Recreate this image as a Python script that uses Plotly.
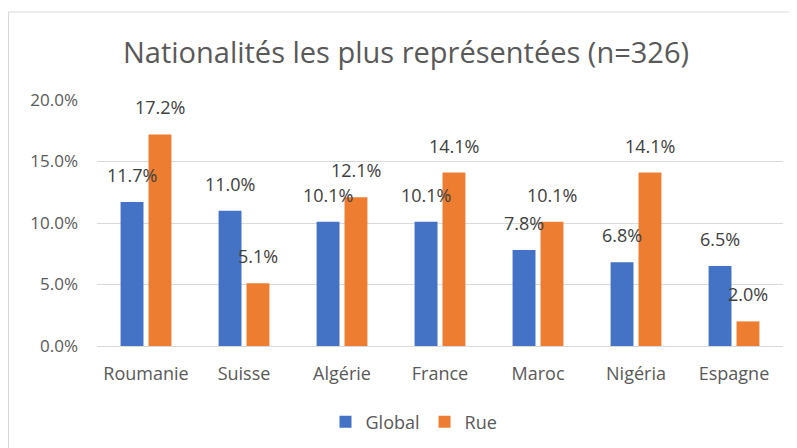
import plotly.graph_objects as go

categories = ["Roumanie", "Suisse", "Algérie", "France", "Maroc", "Nigéria", "Espagne"]
global_vals = [11.7, 11.0, 10.1, 10.1, 7.8, 6.8, 6.5]
rue_vals = [17.2, 5.1, 12.1, 14.1, 10.1, 14.1, 2.0]
y_ticks = [0, 5, 10, 15, 20]

# page body has an 8px margin: figure coordinates = reference coordinates - 8
OFF = 8
W, H = 797 - OFF, 448 - OFF
ML = 97 - OFF
MT = 100 - OFF
PLOT_BOTTOM = 346 - OFF
PLOT_RIGHT = 783 - OFF
MB = H - PLOT_BOTTOM
MR = W - PLOT_RIGHT
PW, PH = W - ML - MR, H - MT - MB

font_family = "Open Sans, Liberation Sans, sans-serif"

fig = go.Figure()
fig.add_trace(go.Bar(name="Global", x=categories, y=global_vals,
                     marker=dict(color="#4472C4", line=dict(width=0))))
fig.add_trace(go.Bar(name="Rue", x=categories, y=rue_vals,
                     marker=dict(color="#ED7D31", line=dict(width=0))))

BARGAP, BGG = 0.43, 0.18
half = (1 - BARGAP) / 4  # offset of each bar centre from category centre

annotations = []
for i, c in enumerate(categories):
    for off, vals in ((-half, global_vals), (half, rue_vals)):
        annotations.append(dict(x=i + off, y=vals[i], xref="x", yref="y",
                                text=f"{vals[i]:.1f}%", showarrow=False,
                                yanchor="bottom", yshift=13,
                                font=dict(size=18, color="#404040", family=font_family)))

# chart-area border (top and left)
bx0 = (0.5 - ML) / PW
by1 = (PLOT_BOTTOM - (12 - OFF)) / PH
shapes = [
    dict(type="line", xref="paper", yref="paper", x0=bx0, x1=(W - ML) / PW + 0.01,
         y0=by1, y1=by1, line=dict(color="#d9d9d9", width=1)),
    dict(type="line", xref="paper", yref="paper", x0=bx0, x1=bx0,
         y0=by1, y1=-(MB + 5) / PH, line=dict(color="#d9d9d9", width=1)),
]

fig.update_layout(
    width=W, height=H,
    margin=dict(l=ML, r=MR, t=MT, b=MB, autoexpand=False),
    paper_bgcolor="white", plot_bgcolor="white",
    title=dict(text="Nationalités les plus représentées (n=326)",
               x=(406 - OFF - ML) / PW, xref="paper", xanchor="center",
               y=1 - (53 - OFF) / H, yanchor="middle",
               font=dict(size=29, color="#595959", family=font_family)),
    barmode="group", bargap=BARGAP, bargroupgap=BGG,
    font=dict(family=font_family, color="#595959", size=18),
    legend=dict(orientation="h", x=(414 - OFF - ML) / PW, xanchor="center",
                y=(PLOT_BOTTOM - (422 - OFF)) / PH, yanchor="middle",
                font=dict(size=18, color="#595959"), itemwidth=30),
    annotations=annotations,
    shapes=shapes,
)
fig.update_xaxes(type="category", showgrid=False, showline=True, linecolor="#d9d9d9",
                 ticks="", tickfont=dict(size=18, color="#595959"), ticklabelstandoff=11,
                 range=[-0.5, len(categories) - 0.5])
fig.update_yaxes(range=[0, 20], tickvals=y_ticks, ticktext=[f"{v:.1f}%" for v in y_ticks],
                 showgrid=True, gridcolor="#d9d9d9", zeroline=False, showline=False,
                 ticks="", tickfont=dict(size=17, color="#595959"), ticklabelstandoff=18)

fig.write_html("out.html")
